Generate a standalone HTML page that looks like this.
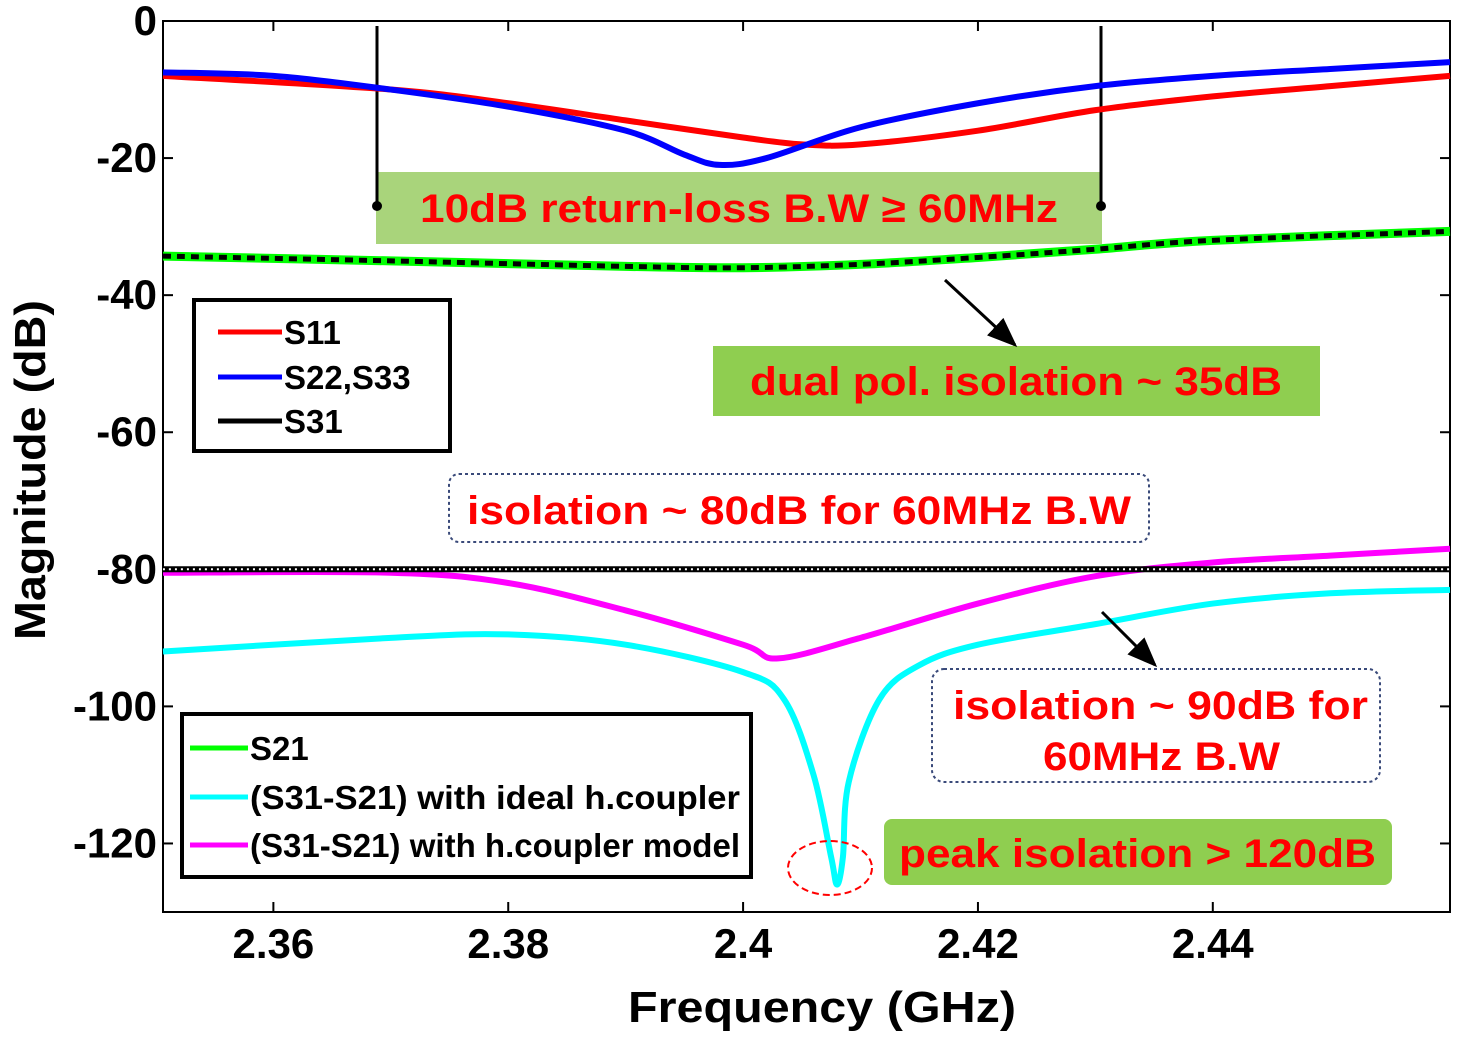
<!DOCTYPE html>
<html><head><meta charset="utf-8"><style>
html,body{margin:0;padding:0;background:#fff;}
svg{display:block;font-family:"Liberation Sans",Arial,sans-serif;}
</style></head><body>
<svg id="chart" width="1460" height="1039" viewBox="0 0 1460 1039">
<defs><marker id="arr" markerWidth="10" markerHeight="10" refX="9" refY="5" orient="auto"><path d="M0,1 L10,5 L0,9 z" fill="#000"/></marker></defs>
<g id="marks"></g>
</svg>
<script>
const xTicks=[2.36,2.38,2.4,2.42,2.44];
const xTickLabels=["2.36","2.38","2.4","2.42","2.44"];
const yTicks=[0,-20,-40,-60,-80,-100,-120];
const yTickLabels=["0","-20","-40","-60","-80","-100","-120"];
const s11F=[2.3506,2.37,2.38,2.39,2.4,2.405,2.41,2.42,2.43,2.44,2.45,2.4602];
const s11V=[-8,-10,-12,-14.5,-17,-18,-18,-16,-13,-11,-9.5,-8];
const s22F=[2.3506,2.36,2.37,2.38,2.39,2.395,2.398,2.402,2.41,2.42,2.43,2.44,2.45,2.4602];
const s22V=[-7.5,-8,-10,-12.5,-16,-19.5,-21,-20,-15.5,-12,-9.5,-8,-7,-6];
const s21F=[2.3506,2.37,2.39,2.4,2.41,2.42,2.43,2.44,2.4602];
const s21V=[-34.3,-35,-35.8,-36,-35.5,-34.5,-33.3,-32,-30.7];
const s31F=[2.3506,2.4602];
const s31V=[-80,-80];
const magF=[2.3506,2.37,2.38,2.39,2.4,2.403,2.41,2.42,2.43,2.44,2.45,2.4602];
const magV=[-80.5,-80.5,-82,-86,-91,-93,-90,-85,-81,-79,-78,-77];
const cyF=[2.3506,2.37,2.38,2.39,2.4,2.4035,2.406,2.4075,2.408,2.4085,2.409,2.4116,2.415,2.42,2.43,2.44,2.45,2.4602];
const cyV=[-92,-90,-89.5,-91,-95,-99,-110,-122,-126,-122,-111,-99,-94,-91,-88,-85,-83.5,-83];

const X0=163,X1=1450,Y0=21,Y1=912,FMIN=2.3506,FMAX=2.4602,VMAX=0,VMIN=-130;
const sx=f=>X0+(f-FMIN)/(FMAX-FMIN)*(X1-X0);
const sy=v=>Y0+(VMAX-v)/(VMAX-VMIN)*(Y1-Y0);
const NS="http://www.w3.org/2000/svg";
const g=document.getElementById('marks');
function el(t,a,txt){const e=document.createElementNS(NS,t);for(const k in a)e.setAttribute(k,a[k]);if(txt!==undefined)e.textContent=txt;g.appendChild(e);return e;}
function pathD(F,V){
  const p=F.map((f,i)=>[sx(f),sy(V[i])]);
  let d='M'+p[0][0]+','+p[0][1];
  for(let i=0;i<p.length-1;i++){const a=p[Math.max(0,i-1)],b=p[i],c=p[i+1],e=p[Math.min(p.length-1,i+2)];
    d+=' C'+(b[0]+(c[0]-a[0])/6)+','+(b[1]+(c[1]-a[1])/6)+' '+(c[0]-(e[0]-b[0])/6)+','+(c[1]-(e[1]-b[1])/6)+' '+c[0]+','+c[1];}
  return d;}

let e=el('rect',{x:X0,y:Y0,width:X1-X0,height:Y1-Y0,fill:'none',stroke:'#000','stroke-width':2});

xTicks.forEach((t,i)=>{
  el('line',{x1:sx(t),x2:sx(t),y1:Y1,y2:Y1-10,stroke:'#000','stroke-width':2});
  el('line',{x1:sx(t),x2:sx(t),y1:Y0,y2:Y0+10,stroke:'#000','stroke-width':2});
  const tx=el('text',{x:sx(t),y:958,'text-anchor':'middle','font-size':42,'font-weight':'bold'},xTickLabels[i]);
  
});
yTicks.forEach((t,i)=>{
  el('line',{x1:X0,x2:X0+10,y1:sy(t),y2:sy(t),stroke:'#000','stroke-width':2});
  el('line',{x1:X1,x2:X1-10,y1:sy(t),y2:sy(t),stroke:'#000','stroke-width':2});
  const ty=el('text',{x:157,y:sy(t)+14,'text-anchor':'end','font-size':42,'font-weight':'bold'},yTickLabels[i]);
  
});
e=el('text',{x:628,y:1022,'font-size':44,'font-weight':'bold',textLength:388,lengthAdjust:'spacingAndGlyphs'},'Frequency (GHz)');

e=el('text',{x:0,y:0,'font-size':44,'font-weight':'bold',textLength:340,lengthAdjust:'spacingAndGlyphs',transform:'translate(45,640) rotate(-90)'},'Magnitude (dB)');


function ann(x,y,len,txt,name){const t=el('text',{x:x,y:y,'font-size':40,'font-weight':'bold',fill:'#f00',textLength:len,lengthAdjust:'spacingAndGlyphs'},txt);}

e=el('rect',{x:376,y:172,width:726,height:72,fill:'#a9d47b'});
ann(420,222,638,'10dB return-loss B.W ≥ 60MHz','bandwidth-annotation');
el('line',{x1:377,x2:377,y1:26,y2:206,stroke:'#000','stroke-width':3});
el('line',{x1:1101,x2:1101,y1:26,y2:206,stroke:'#000','stroke-width':3});
el('circle',{cx:377,cy:206,r:5,fill:'#000'});el('circle',{cx:1101,cy:206,r:5,fill:'#000'});

function series(F,V,attrs,name){const p=el('path',Object.assign({d:pathD(F,V),fill:'none','stroke-linejoin':'round'},attrs));}
series(s11F,s11V,{stroke:'#f00','stroke-width':6},'s11-line');
series(s22F,s22V,{stroke:'#00f','stroke-width':6},'s22-s33-line');
series(s21F,s21V,{stroke:'#0f0','stroke-width':9},'s21-line');
series(s21F,s21V,{stroke:'#000','stroke-width':5,'stroke-dasharray':'8 6'},'s21-dots');
series(magF,magV,{stroke:'#f0f','stroke-width':6},'h-coupler-model-line');
series(cyF,cyV,{stroke:'#0ff','stroke-width':6},'ideal-h-coupler-line');
series(s31F,s31V,{stroke:'#000','stroke-width':6},'s31-line');
series(s31F,s31V,{stroke:'#fff','stroke-width':2,'stroke-dasharray':'2 4'},'s31-dots');

e=el('rect',{x:713,y:346,width:607,height:70,fill:'#8fce50'});
ann(750,395,532,'dual pol. isolation ~ 35dB','dual-pol-annotation');
el('line',{x1:945,y1:280,x2:1015,y2:345,stroke:'#000','stroke-width':3,'marker-end':'url(#arr)'});
e=el('rect',{x:449,y:474,width:700,height:68,rx:10,fill:'none',stroke:'#3a4a7a','stroke-width':2,'stroke-dasharray':'3 3'});
ann(467,524,664,'isolation ~ 80dB for 60MHz B.W','isolation-80-annotation');
e=el('rect',{x:932,y:669,width:448,height:113,rx:12,fill:'none',stroke:'#3a4a7a','stroke-width':2,'stroke-dasharray':'3 3'});
ann(953,719,415,'isolation ~ 90dB for','isolation-90-annotation');
ann(1043,770,237,'60MHz B.W','isolation-90-annotation-line2');
el('line',{x1:1102,y1:612,x2:1155,y2:665,stroke:'#000','stroke-width':3,'marker-end':'url(#arr)'});
e=el('rect',{x:884,y:819,width:508,height:66,rx:8,fill:'#8fce50'});
ann(899,867,477,'peak isolation > 120dB','peak-isolation-annotation');
e=el('ellipse',{cx:830,cy:868,rx:42,ry:27,fill:'none',stroke:'#f00','stroke-width':2,'stroke-dasharray':'7 4'});

e=el('rect',{x:194,y:300,width:256,height:151,fill:'#fff',stroke:'#000','stroke-width':4});
[['#f00','S11',332],['#00f','S22,S33',377],['#000','S31',421]].forEach(r=>{
  el('line',{x1:218,x2:282,y1:r[2],y2:r[2],stroke:r[0],'stroke-width':5});
  const t=el('text',{x:284,y:r[2]+12,'font-size':33,'font-weight':'bold'},r[1]);
  
});
e=el('rect',{x:182,y:714,width:569,height:163,fill:'#fff',stroke:'#000','stroke-width':4});
[['#0f0','S21',748],['#0ff','(S31-S21) with ideal h.coupler',797],['#f0f','(S31-S21) with h.coupler model',845]].forEach(r=>{
  el('line',{x1:190,x2:248,y1:r[2],y2:r[2],stroke:r[0],'stroke-width':5});
  const t=el('text',{x:250,y:r[2]+12,'font-size':33,'font-weight':'bold'},r[1]);
  if(r[1].length>4){t.setAttribute('textLength',490);t.setAttribute('lengthAdjust','spacingAndGlyphs');}
  
});
</script>
</body></html>
